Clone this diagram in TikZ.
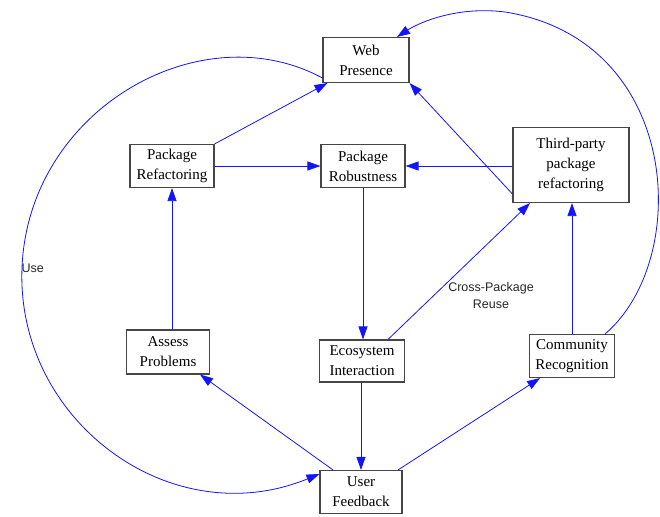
\documentclass[tikz,border=0pt]{standalone}
\usepackage{fontspec}
\setmainfont{Liberation Serif}
\newfontfamily\lblfont{Liberation Sans}
\usetikzlibrary{arrows.meta}
\definecolor{edgeblue}{RGB}{20,20,250}
\definecolor{boxgray}{RGB}{70,70,70}
\tikzset{
  box/.style={draw=boxgray, line width=1.1pt, fill=white, align=center, font=\fontsize{15}{20}\selectfont, inner sep=1pt},
  conn/.style={draw=edgeblue, line width=0.8pt, -{Triangle[length=13pt,width=9pt]}},
  lbl/.style={font=\lblfont\fontsize{12.5}{17}\selectfont, align=center, text=black!85}
}
\begin{document}
\begin{tikzpicture}[x=1pt,y=-1pt]
\useasboundingbox (0,0) rectangle (660,516);
\node[box, minimum width=86pt, minimum height=45pt] (wp) at (366,60) {Web\\Presence};
\node[box, minimum width=84pt, minimum height=43pt] (pr) at (172,166) {Package\\Refactoring};
\node[box, minimum width=84pt, minimum height=43pt] (prob) at (363,166) {Package\\Robustness};
\node[box, minimum width=116pt, minimum height=75pt] (tp) at (571,165) {Third-party\\package\\refactoring};
\node[box, minimum width=83pt, minimum height=44pt] (ap) at (168,352) {Assess\\Problems};
\node[box, minimum width=85pt, minimum height=42pt] (ei) at (362,361) {Ecosystem\\Interaction};
\node[box, minimum width=85pt, minimum height=43pt] (cr) at (572,356) {Community\\Recognition};
\node[box, minimum width=82pt, minimum height=43pt] (uf) at (361,492) {User\\Feedback};

\draw[conn] (pr.north east) -- ([xshift=5pt]wp.south west);
\draw[conn] (pr.east) -- (prob.west);
\draw[conn] (tp.west |- prob.east) -- (prob.east);
\draw[conn] ([yshift=-29pt]tp.west) -- (wp.south east);
\draw[conn] (prob.south) -- (prob.south |- ei.north);
\draw[conn] (ap.north -| pr.south) -- (pr.south);
\draw[conn] (ei.south -| uf.north) -- (uf.north);
\draw[conn] ([xshift=26pt]ei.north) -- ([xshift=-41pt]tp.south);
\draw[conn] (cr.north) -- (cr.north |- tp.south);
\draw[conn] ([xshift=-28pt]uf.north) -- ([xshift=-10pt]ap.south east);
\draw[conn] ([xshift=37pt]uf.north) -- ([xshift=-75pt]cr.south east);

\node[lbl] (cpr) at (491,296) {Cross-Package\\Reuse};
\node[lbl, anchor=west] (use) at (18,268) {Use};

\coordinate (useA) at ([yshift=-18pt]wp.west);
\coordinate (useB) at ([yshift=18pt]uf.west);
\draw[conn] (useA) .. controls (200,12) and (28,110) .. (22,268)
  .. controls (16,420) and (170,535) .. (useB);
\coordinate (recA) at ([xshift=-10pt]cr.north east);
\coordinate (recB) at ([xshift=31pt]wp.north);
\draw[conn] (recA) .. controls (692,260) and (682,40) .. (505,12)
  .. controls (458,6) and (420,22) .. (recB);
\end{tikzpicture}
\end{document}
